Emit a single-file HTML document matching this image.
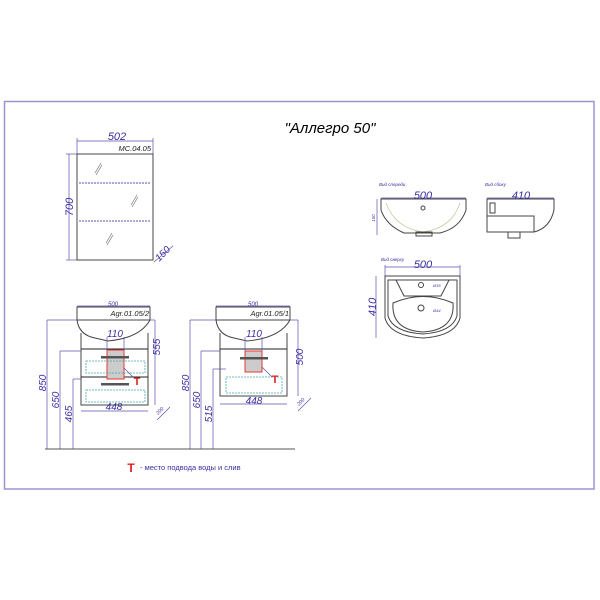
<!DOCTYPE html>
<html><head><meta charset="utf-8"><style>
html,body{margin:0;padding:0;background:#fff}
svg{display:block}
text{font-family:"Liberation Sans",sans-serif}
.d{fill:#3a2fa0;font-style:italic}
.k{stroke:#444;fill:none;stroke-width:1}
.b{stroke:#5a52b0;fill:none;stroke-width:0.7}
</style></head><body>
<svg width="600" height="600" viewBox="0 0 600 600">
<rect x="4.5" y="101.5" width="589.5" height="387.5" fill="none" stroke="#9a94d0" stroke-width="1.5"/>
<text x="330" y="133" font-size="15" font-style="italic" text-anchor="middle">"Аллегро 50"</text>

<!-- mirror -->
<line class="b" x1="77" y1="141" x2="153" y2="141"/><line class="b" x1="77" y1="138" x2="77" y2="154"/><line class="b" x1="153" y1="138" x2="153" y2="154"/>
<text class="d" x="117" y="140" font-size="11" text-anchor="middle">502</text>
<text x="151" y="151" font-size="7.5" font-style="italic" text-anchor="end" fill="#222">MC.04.05</text>
<rect x="77" y="154" width="76" height="106" class="k"/>
<line x1="79" y1="183" x2="151" y2="183" stroke="#5a52b0" stroke-dasharray="2,1"/>
<line x1="79" y1="221" x2="151" y2="221" stroke="#5a52b0" stroke-dasharray="2,1"/>
<g stroke="#777" stroke-width="0.7"><line x1="95" y1="173" x2="101" y2="163"/><line x1="96" y1="175" x2="102" y2="165"/><line x1="131" y1="205" x2="137" y2="195"/><line x1="132" y1="207" x2="138" y2="197"/><line x1="106" y1="243" x2="112" y2="233"/><line x1="107" y1="245" x2="113" y2="235"/></g>
<line class="b" x1="69" y1="154" x2="69" y2="260"/><line class="b" x1="66" y1="154" x2="77" y2="154"/><line class="b" x1="66" y1="260" x2="77" y2="260"/>
<text class="d" font-size="11" transform="translate(73,207) rotate(-90)" text-anchor="middle">700</text>
<line class="b" x1="154" y1="262" x2="173" y2="246"/>
<text class="d" font-size="10" transform="translate(165,256) rotate(-45)" text-anchor="middle">150</text>

<!-- left cabinet -->
<text class="d" x="113" y="306" font-size="6" text-anchor="middle">500</text>
<line class="b" x1="77" y1="306" x2="150" y2="306"/>
<rect x="77" y="307" width="73" height="13" class="k"/>
<text x="149" y="316" font-size="7.5" font-style="italic" text-anchor="end" fill="#222">Agr.01.05/2</text>
<path d="M77 320 Q79 335 95 338 L108 341 Q140 338 150 320" class="k"/>
<path d="M81 333 L81 405 L148 405 L148 333" class="k"/>
<line x1="81" y1="349" x2="148" y2="349" stroke="#222" stroke-width="1"/>
<line x1="81" y1="377" x2="148" y2="377" stroke="#222" stroke-width="1"/>
<rect x="107" y="350" width="17" height="29" fill="#ccc" stroke="#e33" stroke-width="1"/>
<line class="b" x1="107" y1="337" x2="107" y2="350"/><line class="b" x1="124" y1="337" x2="124" y2="350"/>
<text class="d" x="115" y="337" font-size="10" text-anchor="middle">110</text>
<rect x="101" y="356" width="28" height="2.5" fill="#555"/>
<rect x="101" y="383" width="28" height="2.5" fill="#555"/>
<rect x="86" y="361" width="59" height="12" fill="none" stroke="#4aa" stroke-dasharray="2,1" stroke-width="0.8"/>
<rect x="86" y="390" width="59" height="12" fill="none" stroke="#4aa" stroke-dasharray="2,1" stroke-width="0.8"/>
<line x1="124" y1="368" x2="133" y2="377" stroke="#55a" stroke-width="0.7"/>
<text x="137" y="385" font-size="11" font-weight="bold" fill="#e02020" text-anchor="middle">T</text>
<line class="b" x1="81" y1="411" x2="148" y2="411"/>
<text class="d" x="114" y="410" font-size="10" text-anchor="middle">448</text>
<line class="b" x1="150" y1="320" x2="155" y2="320"/><line class="b" x1="155" y1="320" x2="155" y2="405"/>
<text class="d" font-size="10" transform="translate(160,347) rotate(-90)" text-anchor="middle">555</text>
<line class="b" x1="157" y1="420" x2="170" y2="407"/>
<text class="d" font-size="5" transform="translate(161,412) rotate(-45)" text-anchor="middle">200</text>
<line class="b" x1="47" y1="320" x2="77" y2="320"/><line class="b" x1="47" y1="320" x2="47" y2="449"/>
<line class="b" x1="60" y1="351" x2="81" y2="351"/><line class="b" x1="60" y1="351" x2="60" y2="449"/>
<line class="b" x1="73" y1="379" x2="81" y2="379"/><line class="b" x1="73" y1="379" x2="73" y2="449"/>
<text class="d" font-size="10" transform="translate(46,383) rotate(-90)" text-anchor="middle">850</text>
<text class="d" font-size="10" transform="translate(59,400) rotate(-90)" text-anchor="middle">650</text>
<text class="d" font-size="10" transform="translate(72,414) rotate(-90)" text-anchor="middle">465</text>

<!-- right cabinet -->
<text class="d" x="253" y="306" font-size="6" text-anchor="middle">500</text>
<line class="b" x1="216" y1="306" x2="290" y2="306"/>
<rect x="216" y="307" width="74" height="13" class="k"/>
<text x="289" y="316" font-size="7.5" font-style="italic" text-anchor="end" fill="#222">Agr.01.05/1</text>
<path d="M216 320 Q218 335 234 338 L247 341 Q280 338 290 320" class="k"/>
<path d="M220 333 L220 396 L287 396 L287 333" class="k"/>
<line x1="220" y1="349" x2="287" y2="349" stroke="#222" stroke-width="1"/>
<rect x="245" y="351" width="17" height="21" fill="#ccc" stroke="#e33" stroke-width="1"/>
<line class="b" x1="245" y1="337" x2="245" y2="351"/><line class="b" x1="262" y1="337" x2="262" y2="351"/>
<text class="d" x="254" y="337" font-size="10" text-anchor="middle">110</text>
<rect x="240" y="357" width="28" height="2.5" fill="#555"/>
<rect x="226" y="377" width="56" height="16" fill="none" stroke="#4aa" stroke-dasharray="2,1" stroke-width="0.8"/>
<line x1="262" y1="367" x2="272" y2="377" stroke="#55a" stroke-width="0.7"/>
<text x="275" y="383" font-size="11" font-weight="bold" fill="#e02020" text-anchor="middle">T</text>
<line class="b" x1="220" y1="404" x2="287" y2="404"/>
<text class="d" x="254" y="404" font-size="10" text-anchor="middle">448</text>
<line class="b" x1="290" y1="320" x2="298" y2="320"/><line class="b" x1="298" y1="320" x2="298" y2="396"/>
<text class="d" font-size="10" transform="translate(303,357) rotate(-90)" text-anchor="middle">500</text>
<line class="b" x1="298" y1="411" x2="311" y2="398"/>
<text class="d" font-size="5" transform="translate(302,403) rotate(-45)" text-anchor="middle">200</text>
<line class="b" x1="190" y1="320" x2="216" y2="320"/><line class="b" x1="190" y1="320" x2="190" y2="449"/>
<line class="b" x1="201" y1="351" x2="220" y2="351"/><line class="b" x1="201" y1="351" x2="201" y2="449"/>
<line class="b" x1="213" y1="369" x2="226" y2="369"/><line class="b" x1="213" y1="369" x2="213" y2="449"/>
<text class="d" font-size="10" transform="translate(189,383) rotate(-90)" text-anchor="middle">850</text>
<text class="d" font-size="10" transform="translate(200,400) rotate(-90)" text-anchor="middle">650</text>
<text class="d" font-size="10" transform="translate(212,414) rotate(-90)" text-anchor="middle">515</text>
<line x1="45" y1="449" x2="295" y2="449" stroke="#555" stroke-width="1"/>

<!-- legend -->
<text x="131" y="472" font-size="12" font-weight="bold" fill="#e02020" text-anchor="middle">T</text>
<text x="140" y="470" font-size="7.5" fill="#3a2fa0" font-family="Liberation Serif,serif">- место подвода воды и слив</text>

<!-- front view -->
<text class="d" x="379" y="186" font-size="4.5">Вид спереди</text>
<line class="b" x1="381" y1="198" x2="466" y2="198"/>
<text class="d" x="423" y="199" font-size="11" text-anchor="middle">500</text>
<path d="M381 199 L466 199 L466 210 Q460 228 440 233 L404 233 Q386 225 381 210 Z" class="k"/>
<path d="M386 203 Q395 228 423 232 Q452 228 460 203" fill="none" stroke="#bb8" stroke-width="0.6"/>
<rect x="416" y="232" width="16" height="4" class="k"/>
<circle cx="423" cy="208" r="2" class="k"/>
<line class="b" x1="377" y1="199" x2="377" y2="235"/>
<text class="d" font-size="4.5" transform="translate(375,218) rotate(-90)" text-anchor="middle">150</text>
<!-- side view -->
<text class="d" x="485" y="186" font-size="4.5">Вид сбоку</text>
<line class="b" x1="487" y1="198" x2="554" y2="198"/>
<text class="d" x="521" y="199" font-size="11" text-anchor="middle">410</text>
<path d="M487 199 L554 199 L554 210 Q550 228 534 232 L534 216 L487 216 Z M487 216 L487 232 L534 232" class="k"/>
<rect x="508" y="232" width="12" height="6" class="k"/>
<rect x="490" y="203" width="5" height="10" class="k"/>
<!-- top view -->
<text class="d" x="381" y="261" font-size="4.5">Вид сверху</text>
<line class="b" x1="385" y1="267" x2="460" y2="267"/><line class="b" x1="385" y1="265" x2="385" y2="276"/><line class="b" x1="460" y1="265" x2="460" y2="276"/>
<text class="d" x="423" y="268" font-size="11" text-anchor="middle">500</text>
<path d="M385 276 L460 276 L460 318 Q455 336 423 338 Q390 336 385 318 Z" class="k"/>
<path d="M388 280 L457 280 L457 316 Q452 332 423 334 Q393 332 388 316 Z" class="k"/>
<path d="M396 280 L404 296 L441 296 L449 280" class="k"/>
<path d="M393 303 Q423 290 453 303 Q455 330 423 332 Q391 330 393 303 Z" class="k"/>
<circle cx="421" cy="285" r="2.5" class="k"/><circle cx="421" cy="308" r="3" class="k"/>
<text class="d" x="433" y="287" font-size="4">Ø35</text><text class="d" x="433" y="312" font-size="4">Ø44</text>
<line class="b" x1="376" y1="276" x2="376" y2="338"/>
<text class="d" font-size="11" transform="translate(376,307) rotate(-90)" text-anchor="middle">410</text>
</svg>
</body></html>
